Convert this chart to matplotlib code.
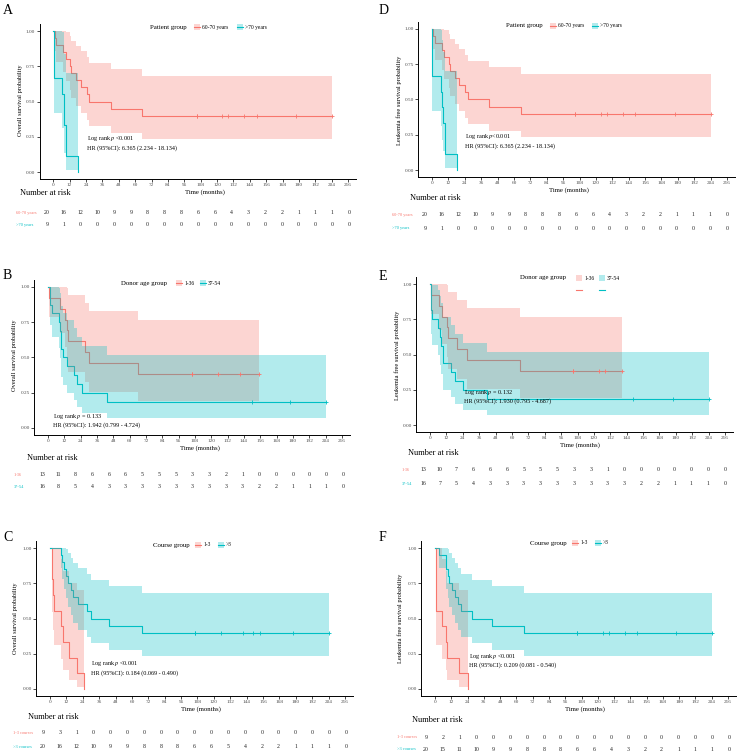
import matplotlib.pyplot as plt
import numpy as np
from matplotlib.patches import Rectangle
from matplotlib.lines import Line2D
from matplotlib.transforms import blended_transform_factory

plt.rcParams['font.family'] = ['Liberation Serif', 'DejaVu Serif']
plt.rcParams['mathtext.fontset'] = 'stix'

W, H = 747, 754
RED = '#F8766D'
CYAN = '#00BFC4'

months = np.arange(0, 217, 12)

# KM estimates + 95% CI (groups of 20, 13, 16, 9)
s20 = [1, .95, .90, .85, .80, .75, .70, .65, .60, .55, .50, .45, .40]
hi20 = [1, 1, 1, 1, .996, .966, .932, .896, .858, .818, .775, .730, .684]
lo20 = [1, .859, .778, .707, .643, .582, .525, .471, .420, .370, .323, .277, .234]

s13 = [1, .923, .846, .769, .692, .615, .538, .462, .385]
hi13 = [1, 1, 1, 1, .994, .945, .890, .830, .766]
lo13 = [1, .789, .671, .571, .482, .400, .325, .257, .193]

# patient group (A = OS, D = LFS, same numbers)
pg_young_t = [0, 1, 2, 7, 9, 12.5, 13, 17, 20, 24.5, 26.5, 42, 65]
pg_young_cens = [105, 105, 124, 128, 140, 149, 178, 204]
pg_old_t = [0, 0.3, 6.5, 7.5, 8.2, 9.2, 18]
pg_old_s = [1, .667, .556, .444, .333, .111, 0]
pg_old_hi = [1, 1, .996, .922, .840, .705, 0]
pg_old_lo = [1, .420, .310, .214, .132, .0175, 0]

# donor age, OS (B)
b_young_t = [0, 1, 9, 12.5, 14, 15, 27, 30, 66]
b_young_cens = [106, 106, 125, 141, 155]
b_old_t = [0, 1.2, 3, 8, 8.8, 9.2, 9.8, 11, 14, 19, 21.4, 25, 43.4]
b_old_s = [1, .875, .8125, .75, .6875, .625, .5625, .5, .4375, .375, .3125, .25, .1875]
b_old_hi = [1, 1, 1, .995, .957, .914, .867, .817, .763, .706, .646, .584, .520]
b_old_lo = [1, .727, .642, .565, .494, .428, .365, .306, .251, .199, .151, .107, .0676]
b_old_cens = [150, 178, 204]

# donor age, LFS (E)
e_young_t = [0, 0.5, 6.6, 9, 12.2, 13, 20, 27, 66]
e_young_cens = [105, 105, 124, 128, 140.5]
e_old_t = [0, 0.5, 1.2, 5.8, 7, 8.3, 9.5, 15.6, 18, 24.4, 42]
e_old_s = [1, .8125, .75, .6875, .625, .5625, .4375, .375, .3125, .25, .1875]
e_old_hi = [1, 1, .995, .957, .913, .867, .763, .706, .646, .584, .520]
e_old_lo = [1, .642, .565, .494, .428, .365, .251, .199, .151, .107, .0676]
e_old_cens = [149, 178, 204]

# course group, OS (C)
c_few_t = [0, 1.2, 2.4, 3.2, 8, 9.8, 14, 20, 25]
c_few_s = [1, .778, .667, .556, .444, .333, .222, .111, 0]
c_few_hi = [1, 1, 1, .997, .922, .840, .754, .705, 0]
c_few_lo = [1, .548, .420, .310, .214, .132, .0655, .0175, 0]
c_many_t = [0, 8, 9, 10, 11.5, 13, 15.4, 16.6, 20.7, 27, 29.8, 43, 67]
c_many_cens = [106, 106, 125, 141, 149, 154, 178, 204]

# course group, LFS (F)
f_few_t = [0, 0.5, 4.9, 7.8, 9, 17.6, 24.2]
f_few_s = [1, .556, .444, .333, .222, .111, 0]
f_few_hi = [1, .997, .922, .840, .754, .705, 0]
f_few_lo = [1, .310, .214, .132, .0655, .0175, 0]
f_many_t = [0, 2.9, 7.8, 8.3, 9.6, 10.5, 12.7, 14.5, 17, 19, 27, 42, 65.5]
f_many_cens = [105, 105, 124, 128, 140, 149, 178, 204]

# number at risk tables
risk_pg_young = [20, 16, 12, 10, 9, 9, 8, 8, 8, 6, 6, 4, 3, 2, 2, 1, 1, 1, 0]
risk_pg_old = [9, 1] + [0] * 17
risk_b_young = [13, 11, 8, 6, 6, 6, 5, 5, 5, 3, 3, 2, 1, 0, 0, 0, 0, 0, 0]
risk_b_old = [16, 8, 5, 4, 3, 3, 3, 3, 3, 3, 3, 3, 3, 2, 2, 1, 1, 1, 0]
risk_c_few = [9, 3, 1] + [0] * 16
risk_c_many = [20, 16, 12, 10, 9, 9, 8, 8, 8, 6, 6, 5, 4, 2, 2, 1, 1, 1, 0]
risk_e_young = [13, 10, 7, 6, 6, 6, 5, 5, 5, 3, 3, 1, 0, 0, 0, 0, 0, 0, 0]
risk_e_old = [16, 7, 5, 4, 3, 3, 3, 3, 3, 3, 3, 3, 3, 2, 2, 1, 1, 1, 0]
risk_f_few = [9, 2, 1] + [0] * 16
risk_f_many = [20, 15, 11, 10, 9, 9, 8, 8, 8, 6, 6, 4, 3, 2, 2, 1, 1, 1, 0]


def fx(px):
    return px / W


def fy(py):
    return 1 - py / H


fig = plt.figure(figsize=(W / 100, H / 100), dpi=100)


def draw_curve(ax, t, s, lo, hi, end, cens, color):
    x = np.append(t, end)
    ax.step(x, np.append(s, s[-1]), where='post', color=color, lw=0.8, zorder=2)
    ax.fill_between(x, np.append(lo, lo[-1]), np.append(hi, hi[-1]), step='post',
                    color=color, alpha=0.3, lw=0, zorder=3)
    if cens:
        idx = np.searchsorted(t, cens, side='right') - 1
        ax.plot(cens, np.array(s)[idx], '+', color=color, ms=3, mew=0.6, zorder=4)


def panel(g, curves, leg, rows, annot, ylab):
    x0, x216, y1, y0 = g['axis']
    kx = (x216 - x0) / 216
    ky = y0 - y1
    left, right = x0 - 10 * kx, x0 + 222 * kx
    top, bottom = y1 - 0.05 * ky, y0 + 0.05 * ky
    ax = fig.add_axes([fx(left), fy(bottom), (right - left) / W, (bottom - top) / H])
    ax.set_xlim(-10, 222)
    ax.set_ylim(-0.05, 1.05)
    for c in curves:
        draw_curve(ax, *c)
    ax.set_xticks(months)
    ax.set_yticks([0, .25, .5, .75, 1])
    ax.set_yticklabels(['0.00', '0.25', '0.50', '0.75', '1.00'])
    ax.tick_params(labelsize=3.8, length=2, width=0.5, pad=1.2, labelcolor='#4D4D4D')
    for sp in ['top', 'right']:
        ax.spines[sp].set_visible(False)
    for sp in ['left', 'bottom']:
        ax.spines[sp].set_linewidth(0.7)
    ax.text(annot[0], annot[1], annot[3], fontsize=4.4, va='center')
    ax.text(annot[0], annot[2], annot[4], fontsize=4.4, va='center')

    fig.text(fx(g['letter'][0]), fy(g['letter'][1]), g['name'], fontsize=10, va='top')
    fig.text(fx(g['xlab'][0]), fy(g['xlab'][1]), 'Time (months)', fontsize=4.9,
             ha='center', va='center')
    fig.text(fx(g['ylab'][0]), fy(g['ylab'][1]), ylab, fontsize=4.6, rotation=90,
             ha='center', va='center')

    # legend
    lx, ly = g['leg']
    fig.text(fx(lx), fy(ly), leg[0], fontsize=4.9, va='center')
    for kpx, lab, col in zip(g['keys'], leg[1:], [RED, CYAN]):
        fig.add_artist(Rectangle((fx(kpx - 3), fy(ly + 3)), 6 / W, 6 / H,
                                 transform=fig.transFigure, facecolor=col, alpha=0.3, lw=0))
        ly_line = ly + g.get('keyline', 0)
        fig.add_artist(Line2D([fx(kpx - 3), fx(kpx + 3)], [fy(ly_line)] * 2,
                              transform=fig.transFigure, color=col, lw=0.8))
        fig.text(fx(kpx + 5), fy(ly), lab, fontsize=4, va='center')

    # risk table
    fig.text(fx(g['nar'][0]), fy(g['nar'][1]), 'Number at risk', fontsize=6, va='center')
    c0, c1 = g['cols']
    r0, r1 = g['rows']
    d = r1 - r0
    tax = fig.add_axes([fx(c0), fy(r1 + d / 2), (c1 - c0) / W, 2 * d / H])
    tax.set_xlim(0, 216)
    tax.set_ylim(1.5, -0.5)
    tax.axis('off')
    tr = blended_transform_factory(fig.transFigure, tax.transData)
    for i, (lab, vals, col) in enumerate(zip(rows[0], rows[1:], [RED, CYAN])):
        tax.text(fx(g['rowlab']), i, lab, transform=tr, fontsize=3.2, color=col,
                 va='center', ha='left')
        for m, v in zip(months, vals):
            tax.text(m, i, str(v), fontsize=4.2, ha='center', va='center', color='#222222')
    return ax


os_lab = 'Overall survival probability'
lfs_lab = 'Leukemia free survival probability'
pg_leg = ['Patient group', '60-70 years', '>70 years']
da_leg = ['Donor age group', '1-36', '37-54']
cg_leg = ['Course group', '1-3', '>3']

# A
panel(dict(name='A', axis=(53.3, 348, 31, 172), letter=(3, 4), xlab=(205, 192), ylab=(21, 100),
           leg=(150, 27), keys=(197, 240), nar=(20, 193), cols=(47, 349), rows=(213, 225), rowlab=16),
      [(pg_young_t, s20, lo20, hi20, 204, pg_young_cens, RED),
       (pg_old_t, pg_old_s, pg_old_lo, pg_old_hi, 18, [], CYAN)],
      pg_leg, (['60-70 years', '>70 years'], risk_pg_young, risk_pg_old),
      (25, .24, .17, r'Log rank $p$ <0.001', 'HR (95%CI): 6.365 (2.234 - 18.134)'), os_lab)

# B
panel(dict(name='B', axis=(48, 342, 287, 428), letter=(3, 269), xlab=(200, 448), ylab=(15, 355),
           leg=(121, 283), keys=(179, 203), nar=(27, 458), cols=(42, 343), rows=(475, 487), rowlab=14),
      [(b_young_t, s13, lo13, hi13, 155, b_young_cens, RED),
       (b_old_t, b_old_s, b_old_lo, b_old_hi, 204, b_old_cens, CYAN)],
      da_leg, (['1-36', '37-54'], risk_b_young, risk_b_old),
      (4, .08, .02, r'Log rank $p$ = 0.133', 'HR (95%CI): 1.942 (0.799 - 4.724)'), os_lab)

# C
panel(dict(name='C', axis=(50, 345, 548, 689), letter=(3, 531), xlab=(201, 709), ylab=(16, 618),
           leg=(153, 545), keys=(198, 221), nar=(28, 717), cols=(43, 346), rows=(733, 747), rowlab=13),
      [(c_few_t, c_few_s, c_few_lo, c_few_hi, 25, [], RED),
       (c_many_t, s20, lo20, hi20, 204, c_many_cens, CYAN)],
      cg_leg, (['1-3 courses', '>3 courses'], risk_c_few, risk_c_many),
      (30, .18, .113, r'Log rank $p$ <0.001', 'HR (95%CI): 0.184 (0.069 - 0.490)'), os_lab)

# D
panel(dict(name='D', axis=(432, 727, 29, 170), letter=(379, 4), xlab=(569, 190), ylab=(399, 100),
           leg=(506, 26), keys=(553, 595), nar=(410, 198), cols=(425, 727), rows=(215, 228), rowlab=392),
      [(pg_young_t, s20, lo20, hi20, 204, pg_young_cens, RED),
       (pg_old_t, pg_old_s, pg_old_lo, pg_old_hi, 18, [], CYAN)],
      pg_leg, (['60-70 years', '>70 years'], risk_pg_young, risk_pg_old),
      (24, .235, .17, r'Log rank $p$<0.001', 'HR (95%CI): 6.365 (2.234 - 18.134)'), lfs_lab)

# E
panel(dict(name='E', axis=(430, 725, 284, 425), letter=(379, 270), xlab=(580, 445), ylab=(397, 355),
           leg=(520, 278), keys=(579, 602), keyline=12, nar=(408, 453), cols=(423, 725),
           rows=(470, 484), rowlab=402),
      [(e_young_t, s13, lo13, hi13, 140.5, e_young_cens, RED),
       (e_old_t, e_old_s, e_old_lo, e_old_hi, 204, e_old_cens, CYAN)],
      da_leg, (['1-36', '37-54'], risk_e_young, risk_e_old),
      (25, .227, .17, r'Log rank $p$ = 0.132', 'HR (95%CI): 1.930 (0.795 - 4.687)'), lfs_lab)

# F
panel(dict(name='F', axis=(435, 728, 548, 689), letter=(379, 531), xlab=(585, 709), ylab=(400, 618),
           leg=(530, 543), keys=(575, 598), nar=(412, 720), cols=(426, 729), rows=(737, 749), rowlab=397),
      [(f_few_t, f_few_s, f_few_lo, f_few_hi, 24.2, [], RED),
       (f_many_t, s20, lo20, hi20, 204, f_many_cens, CYAN)],
      cg_leg, (['1-3 courses', '>3 courses'], risk_f_few, risk_f_many),
      (25, .234, .17, r'Log rank $p$ <0.001', 'HR (95%CI): 0.209 (0.081 - 0.540)'), lfs_lab)

fig.savefig('out.png', dpi=100)
